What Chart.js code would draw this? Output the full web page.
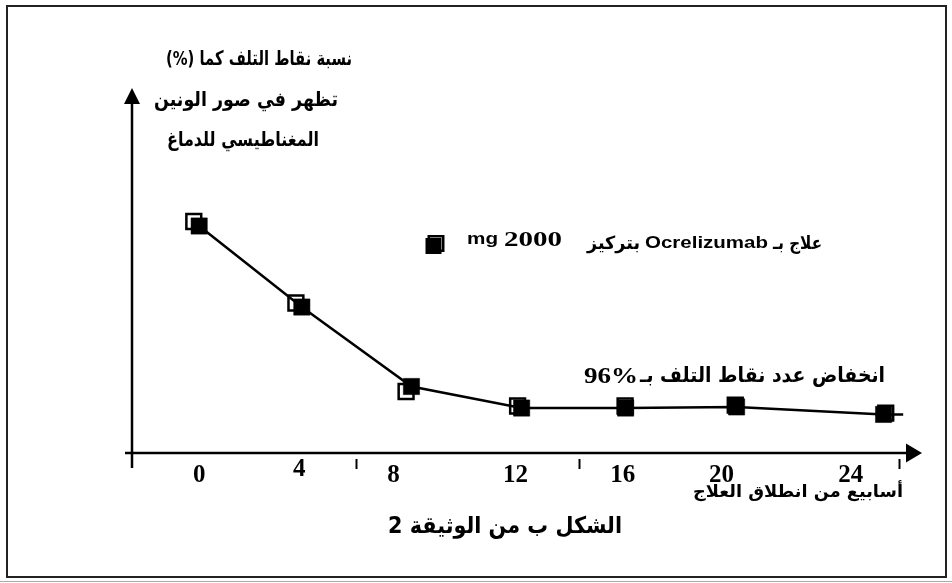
<!DOCTYPE html>
<html>
<head>
<meta charset="utf-8">
<script src="https://cdn.jsdelivr.net/npm/chart.js@4.4.1/dist/chart.umd.min.js"></script>
<style>
  html, body { margin: 0; padding: 0; background: #fff; }
  #wrap { position: relative; width: 952px; height: 583px; }
</style>
</head>
<body>
<div id="wrap"><canvas id="c" width="952" height="583"></canvas></div>
<script>
// 黒い四角（線で結ばれた系列）: 週, 値（最初の点 = 100）
const WEEKS = [0, 3.82, 7.9, 12, 15.87, 20, 25.47, 26.2]; // 最後の点は線の端だけ
const VALUES = [100, 64.3, 29.3, 19.8, 19.8, 20.3, 17.0, 17.0];

// 白い四角（後ろにずれて見える系列）
const WEEKS_OPEN = [-0.2, 3.6, 7.7, 11.85, 15.85, 19.95, 25.55];
const VALUES_OPEN = [102, 66.1, 27.1, 20.7, 20.7, 21.1, 17.6];

// X軸の目盛りラベルとその位置（週）
const TICK_LABELS = ['0', '4', '8', '12', '16', '20', '24'];
const TICK_AT = [0, 3.72, 7.23, 11.77, 15.76, 19.44, 24.25];
// 軸の下の小さな縦線
const TICK_MARKS = [5.85, 14.15, 26.05];

const AR = '"DejaVu Sans"';
const SANS = '"Liberation Sans", Arial';
const SERIF = '"Liberation Serif", "Times New Roman"';

// 指定サイズで描いて、横だけ幅に合わせる
function fitText(ctx, text, font, x1, x2, yc, rtl) {
  ctx.save();
  ctx.direction = rtl ? 'rtl' : 'ltr';
  ctx.font = font;
  ctx.textAlign = 'center';
  ctx.textBaseline = 'middle';
  const sx = (x2 - x1) / ctx.measureText(text).width;
  ctx.translate((x1 + x2) / 2, yc);
  ctx.scale(sx, 1);
  ctx.fillText(text, 0, 0);
  ctx.restore();
}

function square(ctx, cx, cy, side, fill, stroke, lw) {
  ctx.beginPath();
  ctx.rect(cx - side / 2, cy - side / 2, side, side);
  if (fill) { ctx.fillStyle = fill; ctx.fill(); }
  if (stroke) { ctx.lineWidth = lw; ctx.strokeStyle = stroke; ctx.stroke(); }
}

const decor = {
  id: 'decor',
  beforeDraw(chart) {
    const ctx = chart.ctx;
    ctx.save();
    ctx.fillStyle = '#fff';
    ctx.fillRect(0, 0, chart.width, chart.height);
    ctx.strokeStyle = '#aaa';
    ctx.lineWidth = 1;
    ctx.beginPath();
    ctx.moveTo(0, 581.5); ctx.lineTo(952, 581.5);
    ctx.stroke();
    ctx.strokeStyle = '#222';
    ctx.lineWidth = 2;
    ctx.strokeRect(7, 6, 939, 571);
    ctx.restore();
  },
  afterDraw(chart) {
    const ctx = chart.ctx;
    const xs = chart.scales.x;
    const ys = chart.scales.y;
    const ax = chart.chartArea.left;
    const ay = ys.getPixelForValue(0);
    const top = chart.chartArea.top;
    const right = chart.chartArea.right;
    ctx.save();
    ctx.strokeStyle = '#000';
    ctx.fillStyle = '#000';
    ctx.lineWidth = 2.5;
    // 縦軸
    ctx.beginPath();
    ctx.moveTo(ax, top + 14);
    ctx.lineTo(ax, ay + 15);
    ctx.stroke();
    ctx.beginPath();
    ctx.moveTo(ax, top);
    ctx.lineTo(ax - 8, top + 16);
    ctx.lineTo(ax + 8, top + 16);
    ctx.closePath();
    ctx.fill();
    // 横軸
    ctx.beginPath();
    ctx.moveTo(ax - 7, ay);
    ctx.lineTo(right - 14, ay);
    ctx.stroke();
    ctx.beginPath();
    ctx.moveTo(right, ay);
    ctx.lineTo(right - 16, ay - 9.5);
    ctx.lineTo(right - 16, ay + 9.5);
    ctx.closePath();
    ctx.fill();
    // 小さな縦線
    ctx.lineWidth = 2;
    TICK_MARKS.forEach(function (w) {
      const px = Math.round(xs.getPixelForValue(w)) + 0.5;
      ctx.beginPath();
      ctx.moveTo(px, ay + 6);
      ctx.lineTo(px, ay + 16);
      ctx.stroke();
    });

    ctx.fillStyle = '#000';
    // 縦軸のタイトル
    fitText(ctx, 'نسبة نقاط التلف كما (%)', 'bold 20px ' + AR, 166, 352, 60, true);
    fitText(ctx, 'تظهر في صور الونين', 'bold 20px ' + AR, 154, 338, 101, true);
    fitText(ctx, 'المغناطيسي للدماغ', 'bold 20px ' + AR, 167, 319, 141, true);

    // 凡例
    square(ctx, 436, 243.5, 14.5, '#fff', '#000', 2.5);
    square(ctx, 433.5, 246, 16, '#000', null, 0);
    fitText(ctx, 'mg', 'bold 17px ' + SANS, 467, 498, 239, false);
    fitText(ctx, '2000', 'bold 22px ' + SERIF, 504, 562, 240, false);
    fitText(ctx, 'بتركيز', 'bold 18px ' + AR, 587, 640, 244, true);
    fitText(ctx, 'Ocrelizumab', 'bold 17px ' + SANS, 645, 768, 243, false);
    fitText(ctx, 'علاج بـ', 'bold 18px ' + AR, 773, 822, 244, true);

    // 注記
    fitText(ctx, '96%', 'bold 24px ' + SERIF, 584, 638, 377, false);
    fitText(ctx, 'انخفاض عدد نقاط التلف بـ', 'bold 21px ' + AR, 640, 885, 377, true);

    // 横軸のタイトルと図のタイトル
    fitText(ctx, 'أسابيع من انطلاق العلاج', 'bold 17px ' + AR, 693, 903, 493, true);
    fitText(ctx, 'الشكل ب من الوثيقة 2', 'bold 23px ' + AR, 388, 622, 527, true);
    ctx.restore();
  }
};

const lineData = WEEKS.map(function (w, i) { return { x: w, y: VALUES[i] }; });
const openData = WEEKS_OPEN.map(function (w, i) { return { x: w, y: VALUES_OPEN[i] }; });

new Chart(document.getElementById('c'), {
  type: 'line',
  data: {
    datasets: [
      {
        label: 'filled',
        data: lineData,
        borderColor: '#000',
        borderWidth: 2.5,
        tension: 0,
        pointStyle: 'rect',
        pointRadius: WEEKS.map(function (w, i) { return i === WEEKS.length - 1 ? 0 : 11.5; }),
        pointBackgroundColor: '#000',
        pointBorderColor: '#000',
        pointBorderWidth: 0.5,
      },
      {
        label: 'open',
        data: openData,
        showLine: false,
        pointStyle: 'rect',
        pointRadius: 10.5,
        pointBackgroundColor: '#fff',
        pointBorderColor: '#000',
        pointBorderWidth: 2.5,
      },
    ],
  },
  options: {
    responsive: false,
    devicePixelRatio: 1,
    animation: false,
    events: [],
    layout: {
      padding: { left: 132, right: 30, top: 88, bottom: 90 },
    },
    plugins: {
      legend: { display: false },
      tooltip: { enabled: false },
    },
    scales: {
      x: {
        type: 'linear',
        min: -2.5,
        max: 26.9,
        grid: { display: false, drawTicks: false },
        border: { display: false },
        afterBuildTicks: function (scale) {
          scale.ticks = TICK_AT.map(function (v) { return { value: v }; });
        },
        afterFit: function (scale) {
          scale.height = 40;
        },
        ticks: {
          autoSkip: false,
          maxRotation: 0,
          padding: 8,
          color: '#000',
          // 「4」だけ少し上に描かれている
          font: function (c) {
            return {
              family: SERIF,
              weight: 'bold',
              size: 25,
              lineHeight: c.index === 1 ? 0.66 : 1.2,
            };
          },
          callback: function (v, i) { return TICK_LABELS[i]; },
        },
      },
      y: {
        display: false,
        min: 0,
        max: 160.8,
      },
    },
  },
  plugins: [decor],
});
</script>
</body>
</html>
